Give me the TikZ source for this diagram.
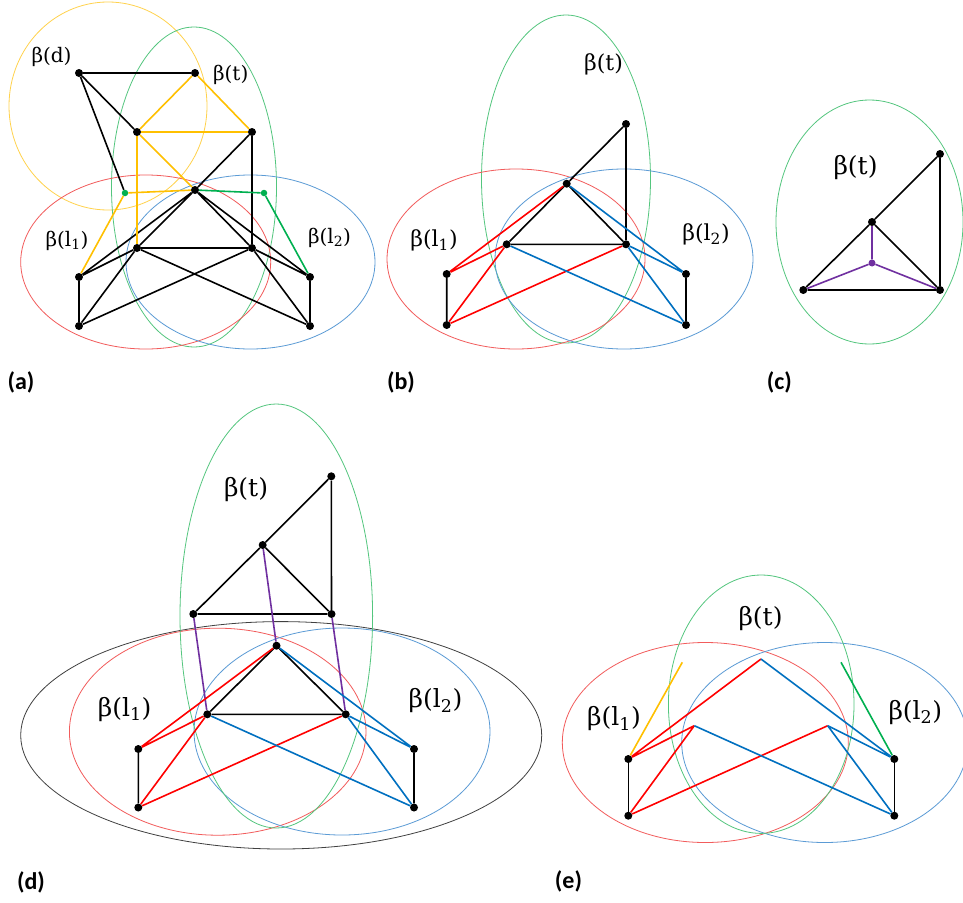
\documentclass[tikz,border=0pt]{standalone}
\usepackage{fontspec}
\newfontfamily\bfnt{DejaVu Serif}
\newfontfamily\pfnt{Carlito}
\definecolor{ered}{HTML}{F25C5C}
\definecolor{eblue}{HTML}{5B9BD5}
\definecolor{egreen}{HTML}{54C67E}
\definecolor{eyellow}{HTML}{FFD24D}
\definecolor{eblack}{HTML}{404040}
\definecolor{lyellow}{HTML}{FFC000}
\definecolor{lgreen}{HTML}{00B050}
\definecolor{lblue}{HTML}{0070C0}
\definecolor{lred}{HTML}{FF0000}
\definecolor{lpurple}{HTML}{7030A0}
\begin{document}
\begin{tikzpicture}[x=1pt,y=-1pt,
  dot/.style={circle,fill=black,inner sep=0pt,minimum size=8pt},
  gdot/.style={circle,fill=lgreen,inner sep=0pt,minimum size=6.5pt},
  pdot/.style={circle,fill=lpurple,inner sep=0pt,minimum size=7pt},
  ell/.style={line width=0.8pt},
  edg/.style={line width=1.6pt},
  ra/.style={font=\bfnt\fontsize{20}{20}\selectfont,inner sep=0pt},
  rb/.style={font=\bfnt\fontsize{22}{22}\selectfont,inner sep=0pt},
  rc/.style={font=\bfnt\fontsize{25}{25}\selectfont,inner sep=0pt},
  plab/.style={font=\pfnt\bfseries\fontsize{24}{24}\selectfont,inner sep=0pt}]
\fill[white] (0,0) rectangle (963,902);
\useasboundingbox (0,0) rectangle (963,902);

% ---------------- (a)
\draw[ell,eyellow] (108,106) ellipse [x radius=99pt,y radius=104pt];
\draw[ell,egreen] (194,187) ellipse [x radius=82.5pt,y radius=160pt];
\draw[ell,ered] (145.7,262) ellipse [x radius=125pt,y radius=87pt];
\draw[ell,eblue] (250.5,262) ellipse [x radius=124.5pt,y radius=87pt];
\node[dot] (ad1) at (79,73) {};
\node[dot] (ad2) at (195,73) {};
\node[dot] (at1) at (137,132) {};
\node[dot] (at2) at (252,132) {};
\node[gdot] (ag1) at (125,193) {};
\node[dot] (ac) at (195,190) {};
\node[gdot] (ag2) at (264,193) {};
\node[dot] (am1) at (137,248) {};
\node[dot] (am2) at (252,248) {};
\node[dot] (aa1) at (79,277) {};
\node[dot] (aa2) at (79,326) {};
\node[dot] (ab1) at (310,277) {};
\node[dot] (ab2) at (310,326) {};
\draw[edg] (ad1)--(ad2) (ad1)--(at1) (ad1)--(ag1) (at2)--(ac) (ac)--(am1) (ac)--(am2)
  (at2)--(am2) (am1)--(am2) (aa1)--(aa2) (ab1)--(ab2) (ac)--(aa1) (am1)--(aa1)
  (am1)--(aa2) (am2)--(aa2) (ac)--(ab1) (am2)--(ab1) (am1)--(ab2) (am2)--(ab2);
\draw[edg,lyellow] (ad2)--(at1) (ad2)--(at2) (at1)--(at2) (at1)--(am1) (at1)--(ac)
  (ag1)--(ac) (ag1)--(aa1);
\draw[edg,lgreen] (ac)--(ag2) (ag2)--(ab1);
\node[ra] (labd) at (51.5,57) {β(d)};
\node[ra] (labta) at (230.7,75) {β(t)};
\node[ra] (labl1a) at (67,241) {β(l\textsubscript{1})};
\node[ra] (labl2a) at (329.5,238) {β(l\textsubscript{2})};
\node[plab] (pa) at (21,382) {(a)};

% ---------------- (b)
\draw[ell,egreen] (566,179) ellipse [x radius=84.5pt,y radius=164pt];
\draw[ell,ered] (516,259) ellipse [x radius=129pt,y radius=90pt];
\draw[ell,eblue] (624,259) ellipse [x radius=129pt,y radius=90pt];
\node[dot] (bT) at (626,124) {};
\node[dot] (bc) at (566.7,183.7) {};
\node[dot] (bm1) at (506.7,244.3) {};
\node[dot] (bm2) at (626,244.3) {};
\node[dot] (ba1) at (446.7,274) {};
\node[dot] (ba2) at (446.7,325) {};
\node[dot] (bb1) at (686,274) {};
\node[dot] (bb2) at (686,325) {};
\draw[edg] (bT)--(bc) (bT)--(bm2) (bc)--(bm1) (bc)--(bm2) (bm1)--(bm2) (ba1)--(ba2) (bb1)--(bb2);
\draw[edg,lred] (bc)--(ba1) (bm1)--(ba1) (bm1)--(ba2) (bm2)--(ba2);
\draw[edg,lblue] (bc)--(bb1) (bm2)--(bb1) (bm1)--(bb2) (bm2)--(bb2);
\node[rb] (labtb) at (603.5,64) {β(t)};
\node[rb] (labl1b) at (434,240) {β(l\textsubscript{1})};
\node[rb] (labl2b) at (706,234) {β(l\textsubscript{2})};
\node[plab] (pb) at (401,382) {(b)};

% ---------------- (c)
\draw[ell,egreen] (869.5,222) ellipse [x radius=93.5pt,y radius=122pt];
\node[dot] (cTR) at (940,154) {};
\node[dot] (cC) at (872,222) {};
\node[pdot] (cP) at (872,263) {};
\node[dot] (cBL) at (803.3,290) {};
\node[dot] (cBR) at (940,290) {};
\draw[edg] (cTR)--(cC) (cTR)--(cBR) (cC)--(cBL) (cC)--(cBR) (cBL)--(cBR);
\draw[edg,lpurple] (cC)--(cP) (cP)--(cBL) (cP)--(cBR);
\node[rc] (labtc) at (855.5,168) {β(t)};
\node[plab] (pc) at (779.3,382) {(c)};

% ---------------- (d)
\draw[ell,eblack] (281.2,735.3) ellipse [x radius=260.5pt,y radius=113.7pt];
\draw[ell,ered] (217.7,731.7) ellipse [x radius=148.3pt,y radius=103.5pt];
\draw[ell,eblue] (342,731.5) ellipse [x radius=148pt,y radius=103.5pt];
\draw[ell,egreen] (276.3,616) ellipse [x radius=96.3pt,y radius=212pt];
\node[dot] (dT) at (331.3,476.3) {};
\node[dot] (dC) at (262.7,545) {};
\node[dot] (dM1) at (193.3,614) {};
\node[dot] (dM2) at (331.5,614) {};
\node[dot] (dc2) at (276.5,645.7) {};
\node[dot] (dn1) at (207.3,714.3) {};
\node[dot] (dn2) at (345.7,714.3) {};
\node[dot] (da1) at (138.3,749) {};
\node[dot] (da2) at (138.3,807.5) {};
\node[dot] (db1) at (414,749) {};
\node[dot] (db2) at (414,807.5) {};
\draw[edg] (dT)--(dC) (dT)--(dM2) (dC)--(dM1) (dC)--(dM2) (dM1)--(dM2)
  (dc2)--(dn1) (dc2)--(dn2) (dn1)--(dn2) (da1)--(da2) (db1)--(db2);
\draw[edg,lpurple] (dM1)--(dn1) (dC)--(dc2) (dM2)--(dn2);
\draw[edg,lred] (dc2)--(da1) (dn1)--(da1) (dn1)--(da2) (dn2)--(da2);
\draw[edg,lblue] (dc2)--(db1) (dn2)--(db1) (dn1)--(db2) (dn2)--(db2);
\node[rc] (labtd) at (246,490) {β(t)};
\node[rc] (labl1d) at (124.7,709.5) {β(l\textsubscript{1})};
\node[rc] (labl2d) at (435.5,700.8) {β(l\textsubscript{2})};
\node[plab] (pd) at (31,882) {(d)};

% ---------------- (e)
\draw[ell,ered] (705.3,742.5) ellipse [x radius=143pt,y radius=100pt];
\draw[ell,eblue] (824.7,742.5) ellipse [x radius=143pt,y radius=100pt];
\draw[ell,egreen] (761.2,704.2) ellipse [x radius=92.8pt,y radius=129.2pt];
\node[dot] (ea1) at (628.3,759) {};
\node[dot] (ea2) at (628.3,815.7) {};
\node[dot] (eb1) at (894.3,759) {};
\node[dot] (eb2) at (894.3,815.7) {};
\coordinate (eX) at (761,659);
\coordinate (eL) at (694.3,725.7);
\coordinate (eR) at (827.7,725.7);
\coordinate (eY) at (682.3,662.3);
\coordinate (eG) at (841,662.3);
\draw[edg] (ea1)--(ea2) (eb1)--(eb2);
\draw[edg,lred,line join=round] (ea1)--(eX) (ea1)--(eL) (eL)--(ea2) (ea2)--(eR);
\draw[edg,lblue,line join=round] (eX)--(eb1) (eR)--(eb1) (eL)--(eb2) (eR)--(eb2);
\draw[edg,lyellow] (ea1)--(eY);
\draw[edg,lgreen] (eb1)--(eG);
\node[rc] (labte) at (760.5,619) {β(t)};
\node[rc] (labl1e) at (614,719) {β(l\textsubscript{1})};
\node[rc] (labl2e) at (915.3,712.5) {β(l\textsubscript{2})};
\node[plab] (pe) at (568.5,881) {(e)};
\end{tikzpicture}
\end{document}
